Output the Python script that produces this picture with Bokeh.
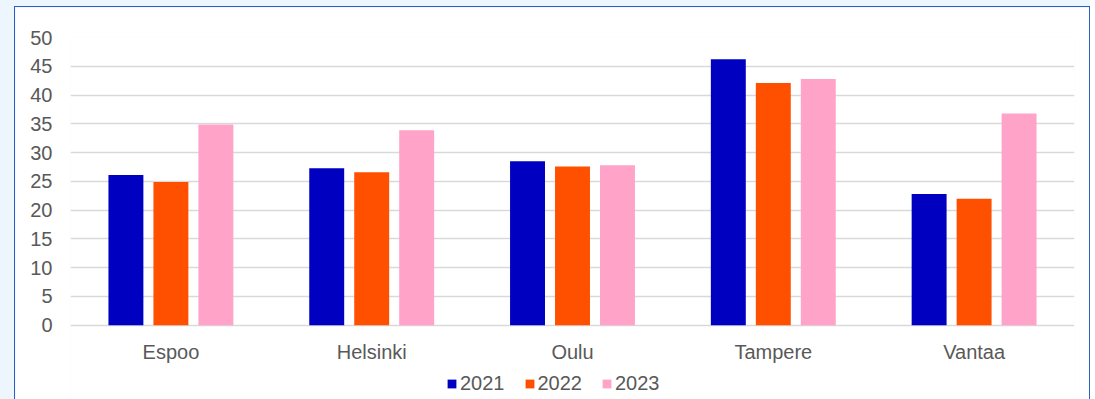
from bokeh.plotting import figure
from bokeh.layouts import column
from bokeh.models import FactorRange, ColumnDataSource, Legend, LegendItem, Range1d, FixedTicker
from bokeh.core.properties import value
from bokeh.transform import dodge
from bokeh.embed import file_html
from bokeh.resources import INLINE

cities = ["Espoo", "Helsinki", "Oulu", "Tampere", "Vantaa"]
years = ["2021", "2022", "2023"]
v2021 = [26.1, 27.3, 28.5, 46.2, 22.8]
v2022 = [24.9, 26.6, 27.6, 42.1, 22.0]
v2023 = [34.9, 33.9, 27.8, 42.8, 36.8]
colors = ["#0000C0", "#FF5000", "#FFA3C9"]
y_ticks = [0, 5, 10, 15, 20, 25, 30, 35, 40, 45, 50]

src = ColumnDataSource(dict(city=cities, y2021=v2021, y2022=v2022, y2023=v2023))

FONT = "Liberation Sans"
p = figure(width=1076, height=393, x_range=FactorRange(factors=cities),
           y_range=Range1d(-12.9, 50), output_backend="svg", toolbar_location=None,
           min_border_left=55, min_border_right=17, min_border_top=30, min_border_bottom=1)
p.styles = {"border-left": "1px solid #2b5fc7", "border-top": "1px solid #2b5fc7",
            "border-right": "1px solid #2b5fc7", "margin-left": "14px", "margin-top": "6px"}
p.outline_line_color = None
p.background_fill_color = "white"
p.border_fill_color = "white"

offsets = [-0.224, 0.0, 0.224]
renderers = []
for col, off, c in zip(["y2021", "y2022", "y2023"], offsets, colors):
    r = p.vbar(x=dodge("city", off, range=p.x_range), top=col, width=0.174,
               source=src, fill_color=c, line_color=None)
    renderers.append(r)

# category labels under the bars
p.text(x="city", y=-4.6, text="city", source=src, text_align="center",
       text_baseline="middle", text_font=value(FONT), text_font_size="20px",
       text_color="#595959")

p.xaxis.visible = False
p.xgrid.grid_line_color = None
p.ygrid.grid_line_color = "#d9d9d9"
p.ygrid.grid_line_width = 1.5
p.yaxis.ticker = FixedTicker(ticks=y_ticks)

ax = p.yaxis[0]
ax.axis_line_color = None
ax.major_tick_line_color = None
ax.minor_tick_line_color = None
ax.major_tick_out = 0
ax.major_tick_in = 0
ax.major_label_text_font = FONT
ax.major_label_text_font_size = "20px"
ax.major_label_text_color = "#595959"
ax.major_label_standoff = 18

legend = Legend(items=[LegendItem(label=y, renderers=[r]) for y, r in zip(years, renderers)],
                orientation="horizontal", location=(376, 4),
                glyph_width=11, glyph_height=11, label_standoff=3, spacing=19,
                padding=0, margin=0, border_line_color=None, background_fill_alpha=0,
                label_text_font=FONT, label_text_font_size="20px", label_text_color="#595959")
p.add_layout(legend, "center")

layout = column(p, styles={"background-color": "#eef6fd"})

open("out.html", "w").write(file_html(layout, INLINE))
